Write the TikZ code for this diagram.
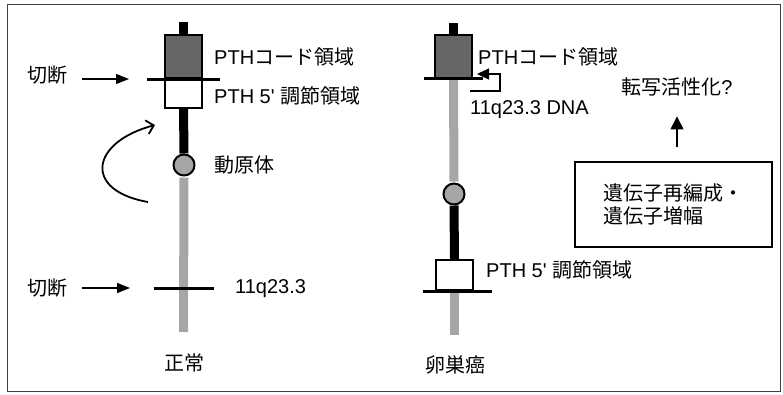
\documentclass[tikz,border=0pt]{standalone}
\usepackage{fontspec}
\setmainfont{Liberation Sans}[Ligatures=TeXOff]
\newfontfamily\jp{Noto Sans CJK JP}
\usetikzlibrary{arrows.meta}

\begin{document}
\begin{tikzpicture}[
  x=1pt, y=-1pt,
  txt/.style={inner sep=0pt, font=\fontsize{20}{23}\selectfont},
  code/.style={draw, line width=2pt, fill=black!60, minimum width=37pt, minimum height=43pt, inner sep=0pt},
  prom/.style={draw, line width=2pt, fill=white, minimum width=37pt, minimum height=30pt, inner sep=0pt},
  centro/.style={circle, draw, line width=2pt, fill=black!35, minimum size=21pt, inner sep=0pt},
  darkarm/.style={line width=9pt},
  greyarm/.style={line width=9pt, black!35},
  cut/.style={line width=3pt},
  pointer/.style={line width=1.3pt, -{Triangle[length=13pt,width=10pt]}},
]
  \useasboundingbox (0,0) rectangle (783,394);
  \draw[line width=1pt, black!75] (7,4) rectangle (780,391);

  % normal
  \node[code] (codeN) at (183.5,56.5) {};
  \node[prom] (promN) at (183.5,93) {};
  \node[centro] (cenN) at (184,165) {};
  \coordinate (topN) at (183.5,22);
  \coordinate (endN) at (183.5,332);
  \coordinate (locN) at (183.5,288);

  \draw[darkarm] (topN) -- (codeN.north);
  \draw[darkarm] (promN.south) -- (cenN.north);
  \draw[greyarm] ([yshift=-1pt]cenN.south) -- (endN);
  \draw[cut] ([xshift=-17pt]codeN.south west) -- ([xshift=17pt]codeN.south east);
  \draw[cut] ([xshift=-30pt]locN) -- ([xshift=30pt]locN);

  \node[txt, anchor=west] (codeNl) at (214,57) {PTH{\jp コード領域}};
  \node[txt, anchor=west] (promNl) at (214,96) {PTH 5' {\jp 調節領域}};
  \node[txt, anchor=west] (cenNl) at (214,165) {\jp 動原体};
  \node[txt, anchor=west] (locNl) at (235,289) {11q23.3};
  \node[txt] (normal) at (184,363) {\jp 正常};

  \node[txt, anchor=west] (cutA) at (27,75) {\jp 切断};
  \node[txt, anchor=west] (cutB) at (27,288) {\jp 切断};
  \coordinate (tipA) at (129,79);
  \coordinate (tipB) at (130,288);
  \foreach \c in {A,B} {
    \draw[pointer, shorten <=15pt] (cut\c.east |- tip\c) -- (tip\c);
  }

  \coordinate (rotS) at (148,202);
  \coordinate (rotE) at (155,125);
  \draw[line width=1.8pt, -{Straight Barb[length=7pt,width=14pt]}]
    (rotS) to[out=170, in=195, looseness=2.2] (rotE);

  % ovarian cancer
  \node[code] (codeC) at (453.5,56) {};
  \node[centro] (cenC) at (454,194) {};
  \node[prom] (promC) at (454.5,275) {};
  \coordinate (topC) at (453.5,23);
  \coordinate (endC) at (454.5,335);

  \draw[darkarm] (topC) -- (codeC.north);
  \draw[greyarm] (codeC.south) -- ([yshift=1pt]cenC.north);
  \draw[darkarm] (cenC.south) -- (promC.north);
  \draw[greyarm] (promC.south) -- (endC);
  \draw[cut] ([xshift=-10pt]codeC.south west) -- ([xshift=10pt]codeC.south east);
  \draw[cut] ([xshift=-12pt]promC.south west) -- ([xshift=18pt]promC.south east);

  \coordinate (bendS) at (470,91);
  \coordinate (bendE) at (477,74);
  \draw[line width=1.3pt, -{Triangle[length=12pt,width=11pt]}]
    (bendS) -| ([xshift=23pt]bendE) -- (bendE);

  \node[txt, anchor=west] (codeCl) at (478,57) {PTH{\jp コード領域}};
  \node[txt, anchor=west] (dnaC) at (470,110) {11q23.3 DNA};
  \node[txt, anchor=west] (promCl) at (486,270) {PTH 5' {\jp 調節領域}};
  \node[txt] (ovary) at (455,365) {\jp 卵巣癌};

  \node[txt, draw, line width=1.3pt, align=left, minimum width=197pt, minimum height=85pt]
    (rearr) at (673.5,204.5) {\jp 遺伝子再編成・\\\jp 遺伝子増幅};
  \node[txt] (act) at (677,87) {{\jp 転写活性化}?};
  \draw[pointer, -{Triangle[length=13pt,width=13pt]}, shorten <=14pt, shorten >=20pt]
    (rearr.north -| act.south) -- (act.south);
\end{tikzpicture}
\end{document}
